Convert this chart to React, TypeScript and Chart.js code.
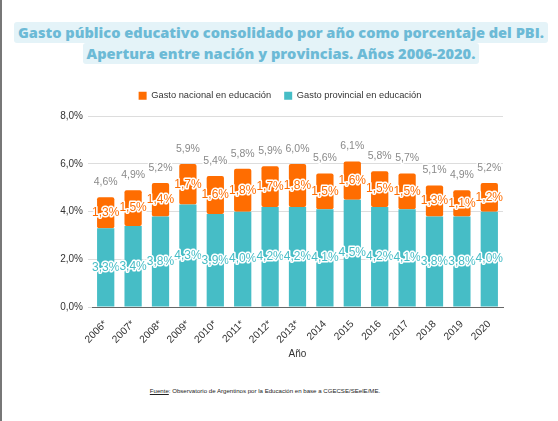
import React, { useEffect, useRef } from "react";
import { Chart, registerables } from "chart.js";

Chart.register(...registerables);

const years = ["2006*", "2007*", "2008*", "2009*", "2010*", "2011*", "2012*", "2013*", "2014", "2015", "2016", "2017", "2018", "2019", "2020"];
const nacional = [1.3, 1.5, 1.4, 1.7, 1.6, 1.8, 1.7, 1.8, 1.5, 1.6, 1.5, 1.5, 1.3, 1.1, 1.2];
const provincial = [3.3, 3.4, 3.8, 4.3, 3.9, 4.0, 4.2, 4.2, 4.1, 4.5, 4.2, 4.1, 3.8, 3.8, 4.0];
const totales = [4.6, 4.9, 5.2, 5.9, 5.4, 5.8, 5.9, 6.0, 5.6, 6.1, 5.8, 5.7, 5.1, 4.9, 5.2];
const yTicks = [0, 2, 4, 6, 8];

const ORANGE = "#ff6d01";
const TEAL = "#46bdc6";
const FONT = "'Liberation Sans', Arial, sans-serif";

const fmt = (v: number) => v.toFixed(1).replace(".", ",") + "%";

const legendMargin = {
  id: "legendMargin",
  beforeInit(chart: any) {
    const orig = chart.legend.fit;
    chart.legend.fit = function () {
      orig.call(this);
      this.height += 6;
    };
  },
};

const labelsPlugin = {
  id: "valueLabels",
  afterDatasetsDraw(chart: any) {
    const ctx = chart.ctx;
    ctx.save();
    ctx.font = "12px " + FONT;
    ctx.textAlign = "center";
    ctx.textBaseline = "middle";
    ctx.lineJoin = "round";
    ctx.lineWidth = 3;
    ctx.strokeStyle = "#ffffff";
    chart.data.datasets.forEach((ds: any, di: number) => {
      const meta = chart.getDatasetMeta(di);
      meta.data.forEach((bar: any, i: number) => {
        const y = (bar.y + bar.base) / 2;
        const t = fmt(ds.data[i]);
        ctx.fillStyle = ds.backgroundColor;
        ctx.strokeText(t, bar.x, y);
        ctx.fillText(t, bar.x, y);
      });
    });
    const topMeta = chart.getDatasetMeta(chart.data.datasets.length - 1);
    ctx.font = "10.5px " + FONT;
    ctx.fillStyle = "#8a8a8a";
    topMeta.data.forEach((bar: any, i: number) => {
      const t = fmt(totales[i]);
      ctx.strokeText(t, bar.x, bar.y - 15);
      ctx.fillText(t, bar.x, bar.y - 15);
    });
    ctx.restore();
  },
};

export default function App() {
  const ref = useRef<HTMLCanvasElement | null>(null);
  useEffect(() => {
    document.body.style.margin = "0";
    if (!ref.current) return;
    const chart = new Chart(ref.current, {
      type: "bar",
      data: {
        labels: years,
        datasets: [
          {
            label: "Gasto provincial en educación",
            data: provincial,
            backgroundColor: TEAL,
            borderRadius: 2,
            borderSkipped: false,
          },
          {
            label: "Gasto nacional en educación",
            data: nacional,
            backgroundColor: ORANGE,
            borderRadius: 2,
            borderSkipped: false,
          },
        ],
      },
      options: {
        animation: false,
        responsive: false,
        devicePixelRatio: 1,
        layout: { padding: { left: 0, right: 0, top: 0, bottom: 6 } },
        datasets: { bar: { categoryPercentage: 1, barPercentage: 0.63 } },
        plugins: {
          legend: {
            position: "top",
            reverse: true,
            labels: {
              boxWidth: 8,
              boxHeight: 8,
              padding: 13,
              color: "#333333",
              font: { family: FONT, size: 9.3 },
            },
          },
          tooltip: { enabled: false },
        },
        scales: {
          x: {
            stacked: true,
            grid: { display: false },
            border: { color: "#666666" },
            ticks: {
              minRotation: 45,
              maxRotation: 45,
              color: "#333333",
              font: { family: FONT, size: 10.3 },
            },
            title: {
              display: true,
              text: "Año",
              color: "#333333",
              font: { family: FONT, size: 10 },
            },
            afterFit(scale: any) {
              scale.height = 57;
            },
          },
          y: {
            stacked: true,
            min: 0,
            max: 8,
            afterBuildTicks(scale: any) {
              scale.ticks = yTicks.map((v) => ({ value: v }));
            },
            ticks: {
              padding: 5,
              color: "#333333",
              font: { family: FONT, size: 10 },
              callback: (v: any) => Number(v).toFixed(1).replace(".", ",") + "%",
            },
            grid: { color: "#dddddd", tickLength: 4 },
            border: { display: false },
            afterFit(scale: any) {
              scale.width = 90;
            },
          },
          yR: {
            position: "right",
            display: true,
            grid: { display: false },
            ticks: { display: false },
            border: { display: false },
            afterFit(scale: any) {
              scale.width = 55;
            },
          },
        },
      },
      plugins: [legendMargin, labelsPlugin],
    } as any);
    return () => chart.destroy();
  }, []);

  const lineStyle: React.CSSProperties = {
    display: "inline-block",
    background: "#e4f3f8",
    color: "#6cbad6",
    borderRadius: 3,
    padding: "1px 4px",
    fontFamily: "'Open Sans', sans-serif",
    fontWeight: 800,
    fontSize: 14.6,
    lineHeight: "19px",
    whiteSpace: "nowrap",
  };

  return (
    <div style={{ position: "relative", width: 558, height: 421, background: "#fff", overflow: "hidden", borderLeft: "2px solid #777", boxSizing: "border-box" }}>
      <div style={{ position: "absolute", top: 22, left: 0, width: 558, textAlign: "center" }}>
        <div><span style={lineStyle}>Gasto público educativo consolidado por año como porcentaje del PBI.</span></div>
        <div><span style={lineStyle}>Apertura entre nación y provincias. Años 2006-2020.</span></div>
      </div>
      <canvas ref={ref} width={556} height={292} style={{ position: "absolute", top: 78, left: 0 }} />
      <div style={{ position: "absolute", top: 387, left: 0, width: 526, textAlign: "center", fontFamily: FONT, fontSize: 6.1, color: "#222" }}>
        <span style={{ textDecoration: "underline" }}>Fuente</span>: Observatorio de Argentinos por la Educación en base a CGECSE/SEelE/ME.
      </div>
    </div>
  );
}
